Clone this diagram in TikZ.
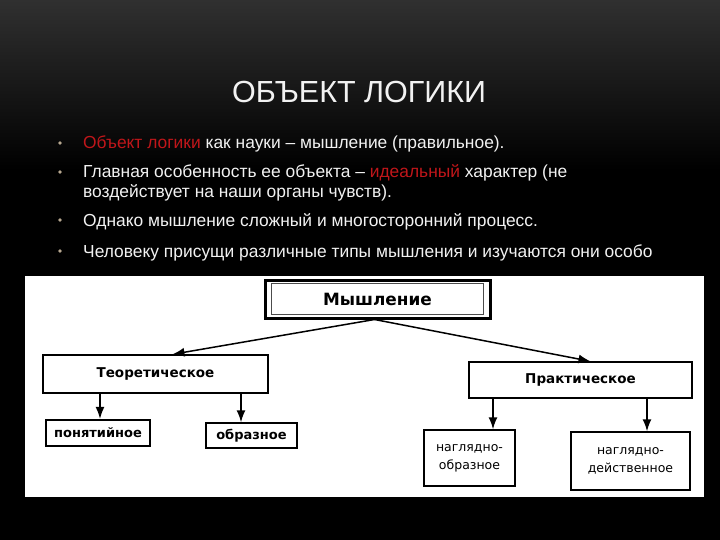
\documentclass[tikz,border=0pt]{standalone}
\usepackage{fontspec}
\usepackage{graphicx}
\setmainfont{Liberation Sans}
\newfontfamily\dvs{DejaVu Sans}
\usetikzlibrary{arrows.meta,calc}
\definecolor{redtxt}{HTML}{C0161A}
\definecolor{bgtop}{HTML}{303030}
\definecolor{bulc}{HTML}{B8A890}
\definecolor{txt}{HTML}{F2F2F2}
\tikzset{
  bodytext/.style={anchor=base west, text=txt, inner sep=0pt, font=\fontsize{17.4}{20}\selectfont},
  bul/.style={circle, fill=bulc, inner sep=0pt, minimum size=3.6pt},
  box/.style={draw=black, line width=1.4pt, fill=white, inner sep=0pt, align=center},
  topfont/.style={font=\dvs\bfseries\fontsize{16.9}{20}\selectfont},
  midfont/.style={font=\dvs\bfseries\fontsize{13.5}{16}\selectfont},
  lowfont/.style={font=\dvs\bfseries\fontsize{13}{16}\selectfont},
  lowfontr/.style={font=\dvs\fontsize{12.5}{18}\selectfont},
  arr/.style={line width=1.5pt, -{Latex[length=12pt,width=9pt]}},
}
\begin{document}
\begin{tikzpicture}[x=1pt,y=-1pt]
\useasboundingbox (0,0) rectangle (720,540);
\fill[black] (0,0) rectangle (720,540);
\shade[top color=bgtop, bottom color=black] (0,0) rectangle (720,170);

% title
\node[anchor=base, text=txt, inner sep=0pt, font=\fontsize{30.5}{34}\selectfont] (title) at (359,103) {ОБЪЕКТ ЛОГИКИ};

% bullets
\node[bul] (b1) at (60,143) {};
\node[bul] (b2) at (60,172) {};
\node[bul] (b3) at (60,220) {};
\node[bul] (b4) at (60,251) {};
\node[bodytext] (t1) at (83,149) {\textcolor{redtxt}{Объект логики} как науки – мышление (правильное).};
\node[bodytext] (t2) at (83,178) {Главная особенность ее объекта – \textcolor{redtxt}{идеальный} характер (не};
\node[bodytext] (t2b) at (83,197.5) {воздействует на наши органы чувств).};
\node[bodytext] (t3) at (83,226) {Однако мышление сложный и многосторонний процесс.};
\node[bodytext] (t4) at (83,257) {Человеку присущи различные типы мышления и изучаются они особо};

% white panel
\fill[white] (25,276) rectangle (704,497);

% diagram
\node[box, line width=3pt, minimum width=225pt, minimum height=38pt, topfont] (mysh) at (377.5,299) {Мышление};
\draw[black!70, line width=0.8pt] ($(mysh.north west)+(8,5)$) rectangle ($(mysh.south east)+(-8,-5)$);
\node[box, minimum width=225pt, minimum height=38pt, midfont] (teor) at (155.5,374) {Теоретическое};
\node[box, minimum width=223pt, minimum height=36pt, midfont] (prakt) at (580.5,380) {Практическое};
\node[box, line width=2.2pt, minimum width=104pt, minimum height=26pt, lowfont] (pon) at (98,433) {понятийное};
\node[box, minimum width=91pt, minimum height=25pt, lowfont] (obr) at (251.5,435.5) {образное};
\node[box, minimum width=91pt, minimum height=56pt, lowfontr] (ngo) at (469.5,458) {наглядно-\\образное};
\node[box, minimum width=119pt, minimum height=58pt, lowfontr] (ngd) at (630.5,461) {наглядно-\\действенное};

% arrow targets
\path (teor.north) ++(17,0) coordinate (teorin);
\path (prakt.north) ++(10,0) coordinate (praktin);
\path (pon.north) ++(2,0) coordinate (ponin);
\path (obr.north) ++(-10.5,0) coordinate (obrin);
\path (ngo.north) ++(23.5,0) coordinate (ngoin);
\path (ngd.north) ++(16.5,0) coordinate (ngdin);

\draw[arr] ($(mysh.south)+(-3,0)$) -- (teorin);
\draw[arr] ($(mysh.south)+(-3,0)$) -- (praktin);
\draw[arr] (ponin |- teor.south) -- (ponin);
\draw[arr] (obrin |- teor.south) -- (obrin);
\draw[arr] (ngoin |- prakt.south) -- (ngoin);
\draw[arr] (ngdin |- prakt.south) -- (ngdin);
\end{tikzpicture}
\end{document}
